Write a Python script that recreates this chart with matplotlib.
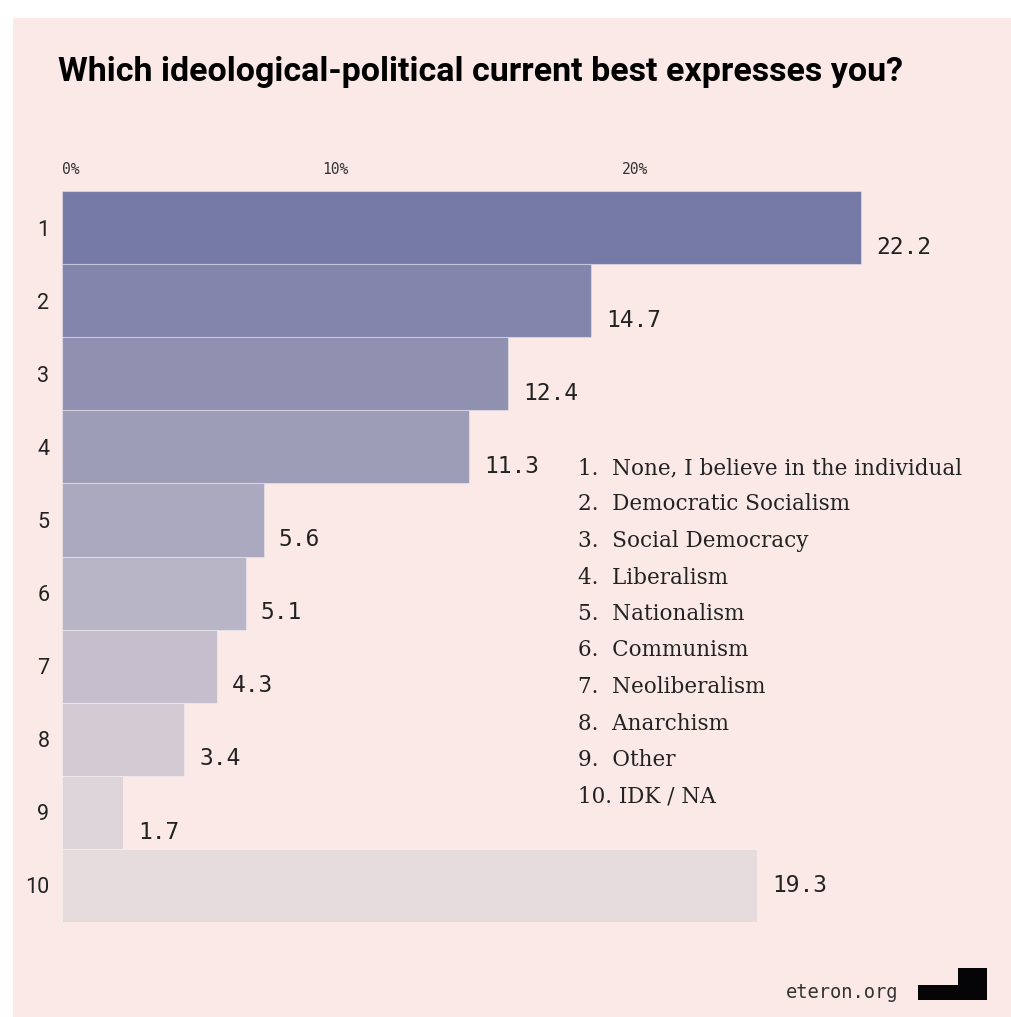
import matplotlib.pyplot as plt
from matplotlib.patches import Rectangle

# data
ranks = [1, 2, 3, 4, 5, 6, 7, 8, 9, 10]
values = [22.2, 14.7, 12.4, 11.3, 5.6, 5.1, 4.3, 3.4, 1.7, 19.3]
names = ["None, I believe in the individual", "Democratic Socialism", "Social Democracy",
         "Liberalism", "Nationalism", "Communism", "Neoliberalism", "Anarchism",
         "Other", "IDK / NA"]
tick_labels = ["0%", "10%", "20%"]
tick_pos = [0, 7.22, 15.56]   # where the labels sit in the original

colors = ["#767aa7", "#8385ac", "#9091b1", "#9d9db8", "#aba9bf",
          "#b8b5c7", "#c5bfcd", "#d3cad3", "#ddd5da", "#e6dbdd"]
bg = "#fae9e7"

W, H = 1011, 1017
fig = plt.figure(figsize=(W / 100, H / 100), dpi=100)
fig.patch.set_facecolor("white")
fig.add_artist(Rectangle((13 / W, 0), 1, 1 - 18 / H, transform=fig.transFigure,
                         facecolor=bg, edgecolor="none", zorder=0))

# axes: x from 62px to 962px (0..25), y bands from 191px to 922px
ax = fig.add_axes([62 / W, (H - 922) / H, 900 / W, (922 - 191) / H])
ax.set_facecolor("none")
ax.barh(ranks, values, height=1.0, color=colors, edgecolor=(1, 1, 1, 0.35), linewidth=0.8)
ax.set_xlim(0, 25)
ax.set_ylim(10.5, 0.5)
for s in ax.spines.values():
    s.set_visible(False)
ax.set_xticks([])
ax.set_yticks(ranks)
ax.set_yticklabels([str(r) for r in ranks], fontfamily="Roboto", fontsize=15.5, color="#222222")
ax.tick_params(axis="y", length=0, pad=9)

# value labels
for r, v in zip(ranks, values):
    dy = 0.0 if r == 10 else 0.27
    ax.text(v + 0.42, r + dy, f"{v}", ha="left", va="center",
            fontfamily="DejaVu Sans Mono", fontsize=16.5, color="#222222")

# top percentage labels
for p, lab in zip(tick_pos, tick_labels):
    ax.text(p, 1.0 + 21 / (922 - 191), lab, transform=ax.get_xaxis_transform(),
            ha="left", va="center", fontfamily="DejaVu Sans Mono", fontsize=10.5,
            color="#333333")

# legend list
for i, (r, n) in enumerate(zip(ranks, names)):
    y = 468 + i * 36.5
    sep = "  " if r < 10 else " "
    fig.text(578 / W, 1 - y / H, f"{r}.{sep}{n}", ha="left", va="center",
             fontfamily="DejaVu Serif", fontsize=15.5, color="#222222")

# title
fig.text(58 / W, 1 - 72 / H, "Which ideological-political current best expresses you?",
         ha="left", va="center", fontfamily="Roboto", fontweight="bold",
         fontsize=24.5, color="black")

# footer
fig.text(898 / W, 1 - 993 / H, "eteron.org", ha="right", va="center",
         fontfamily="DejaVu Sans Mono", fontsize=13.5, color="#333333")
fig.add_artist(Rectangle((918 / W, 1 - 1000 / H), 69 / W, 15 / H,
                         transform=fig.transFigure, facecolor="#050508", edgecolor="none"))
fig.add_artist(Rectangle((958 / W, 1 - 985 / H), 29 / W, 17 / H,
                         transform=fig.transFigure, facecolor="#050508", edgecolor="none"))

fig.savefig("out.png", dpi=100, facecolor=fig.get_facecolor())
